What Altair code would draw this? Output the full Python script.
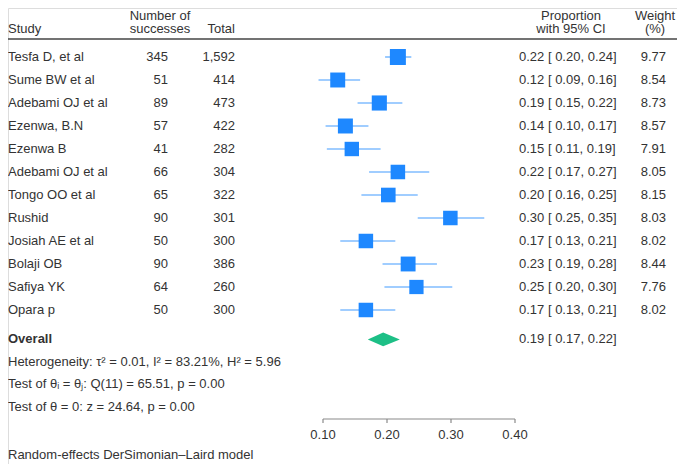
import altair as alt
import pandas as pd

# ---- data ----
studies = ["Tesfa D, et al", "Sume BW et al", "Adebami OJ et al", "Ezenwa, B.N", "Ezenwa B",
           "Adebami OJ et al", "Tongo OO et al", "Rushid", "Josiah AE et al", "Bolaji OB",
           "Safiya YK", "Opara p"]
successes = ["345", "51", "89", "57", "41", "66", "65", "90", "50", "90", "64", "50"]
totals = ["1,592", "414", "473", "422", "282", "304", "322", "301", "300", "386", "260", "300"]
estimates = [0.217, 0.123, 0.188, 0.135, 0.145, 0.217, 0.202, 0.299, 0.167, 0.233, 0.246, 0.167]
ci_low = [0.197, 0.093, 0.154, 0.104, 0.106, 0.172, 0.160, 0.248, 0.127, 0.193, 0.196, 0.127]
ci_high = [0.238, 0.158, 0.224, 0.171, 0.190, 0.266, 0.248, 0.352, 0.213, 0.278, 0.302, 0.213]
ci_labels = ["0.22 [ 0.20,  0.24]", "0.12 [ 0.09,  0.16]", "0.19 [ 0.15,  0.22]",
             "0.14 [ 0.10,  0.17]", "0.15 [ 0.11,  0.19]", "0.22 [ 0.17,  0.27]",
             "0.20 [ 0.16,  0.25]", "0.30 [ 0.25,  0.35]", "0.17 [ 0.13,  0.21]",
             "0.23 [ 0.19,  0.28]", "0.25 [ 0.20,  0.30]", "0.17 [ 0.13,  0.21]"]
weights = [9.77, 8.54, 8.73, 8.57, 7.91, 8.05, 8.15, 8.03, 8.02, 8.44, 7.76, 8.02]
weight_labels = ["9.77", "8.54", "8.73", "8.57", "7.91", "8.05", "8.15", "8.03", "8.02", "8.44", "7.76", "8.02"]

overall_est = 0.194
overall_low = 0.170
overall_high = 0.220
overall_label = "0.19 [ 0.17,  0.22]"

axis_ticks = [0.10, 0.20, 0.30, 0.40]
axis_labels = ["0.10", "0.20", "0.30", "0.40"]

het_text = "Heterogeneity: τ² = 0.01, I² = 83.21%, H² = 5.96"
test1_text = "Test of θᵢ = θⱼ: Q(11) = 65.51, p = 0.00"
test2_text = "Test of θ = 0: z = 24.64, p = 0.00"
model_text = "Random-effects DerSimonian–Laird model"

# ---- layout rows ----
rows = list(range(1, len(studies) + 1))
R_OVERALL = 13.28
R_HET, R_T1, R_T2 = 14.27, 15.22, 16.22
R_AXIS, R_AXLAB, R_MODEL = 16.74, 17.43, 18.30
R_HEAD1, R_HEAD2, R_LINE = -0.80, -0.20, 0.22

TXT = "#333333"
FONT = "Liberation Sans"
FS = 13

W, H = 669, 456
xscale = alt.Scale(domain=[-0.392188, 0.653125], nice=False, zero=False)
yscale = alt.Scale(domain=[-1.1304, 18.696], reverse=True, nice=False, zero=False)

df = pd.DataFrame({
    "study": studies, "succ": successes, "tot": totals, "est": estimates,
    "lo": ci_low, "hi": ci_high, "cil": ci_labels, "w": weights, "wl": weight_labels,
    "r": rows,
})

Y = alt.Y("r:Q", scale=yscale, axis=None)


def text_layer(data, field, x, align="left", bold=False, dx=0):
    return alt.Chart(data).mark_text(
        align=align, baseline="middle", font=FONT, fontSize=FS, color=TXT,
        fontWeight="bold" if bold else "normal", dx=dx
    ).encode(x=alt.value(x), y=Y, text=f"{field}:N")


base = alt.Chart(df)

ci = base.mark_rule(color="#80bdff", strokeWidth=1.6).encode(
    x=alt.X("lo:Q", scale=xscale, axis=None), x2="hi:Q", y=Y)
sq = base.mark_square(color="#1e88ff", opacity=1, filled=True).encode(
    x=alt.X("est:Q", scale=xscale, axis=None), y=Y,
    size=alt.Size("w:Q", scale=alt.Scale(domain=[0, 10], range=[0, 262]), legend=None))

diamond_df = pd.DataFrame({
    "x": [overall_low, overall_est, overall_high],
    "r": [R_OVERALL, R_OVERALL - 0.30, R_OVERALL],
    "r2": [R_OVERALL, R_OVERALL + 0.30, R_OVERALL],
})
diamond = alt.Chart(diamond_df).mark_area(color="#1dbf86", opacity=1).encode(
    x=alt.X("x:Q", scale=xscale, axis=None), y=Y, y2="r2:Q")

# axis
axis_df = pd.DataFrame({"a": [axis_ticks[0]], "b": [axis_ticks[-1]], "r": [R_AXIS]})
axis_line = alt.Chart(axis_df).mark_rule(color="#8a8a8a", strokeWidth=1.2).encode(
    x=alt.X("a:Q", scale=xscale, axis=None), x2="b:Q", y=Y)
tick_df = pd.DataFrame({"t": axis_ticks, "r": [R_AXIS] * 4, "r2": [R_AXIS + 0.17] * 4,
                        "lab": axis_labels, "rl": [R_AXLAB] * 4})
ticks = alt.Chart(tick_df).mark_rule(color="#8a8a8a", strokeWidth=1.2).encode(
    x=alt.X("t:Q", scale=xscale, axis=None), y=Y, y2="r2:Q")
tick_labels = alt.Chart(tick_df).mark_text(
    align="center", baseline="middle", font=FONT, fontSize=FS, color=TXT).encode(
    x=alt.X("t:Q", scale=xscale, axis=None), y=alt.Y("rl:Q", scale=yscale, axis=None), text="lab:N")

# header line
line_df = pd.DataFrame({"r": [R_LINE]})
header_line = alt.Chart(line_df).mark_rule(color="#444444", strokeWidth=1.5).encode(
    x=alt.value(0), x2=alt.value(W), y=Y)

# header texts
def label_df(txt, r):
    return pd.DataFrame({"t": [txt], "r": [r]})

headers = [
    text_layer(label_df("Study", R_HEAD2), "t", 0),
    text_layer(label_df("Number of", R_HEAD1), "t", 152, align="center"),
    text_layer(label_df("successes", R_HEAD2), "t", 152, align="center"),
    text_layer(label_df("Total", R_HEAD2), "t", 227, align="right"),
    text_layer(label_df("Proportion", R_HEAD1), "t", 563, align="center"),
    text_layer(label_df("with 95% CI", R_HEAD2), "t", 563, align="center"),
    text_layer(label_df("Weight", R_HEAD1), "t", 647, align="center"),
    text_layer(label_df("(%)", R_HEAD2), "t", 647, align="center"),
]

cols = [
    text_layer(df, "study", 0),
    text_layer(df, "succ", 160, align="right"),
    text_layer(df, "tot", 227, align="right"),
    text_layer(df, "cil", 511),
    text_layer(df, "wl", 658, align="right"),
]

footer = [
    text_layer(label_df("Overall", R_OVERALL), "t", 0, bold=True),
    text_layer(label_df(overall_label, R_OVERALL), "t", 511),
    text_layer(label_df(het_text, R_HET), "t", 0),
    text_layer(label_df(test1_text, R_T1), "t", 0),
    text_layer(label_df(test2_text, R_T2), "t", 0),
    text_layer(label_df(model_text, R_MODEL), "t", 0),
]

chart = alt.layer(
    ci, sq, diamond, axis_line, ticks, tick_labels, header_line, *headers, *cols, *footer
).properties(
    width=W, height=H, padding=0, autosize=alt.AutoSizeParams(type="none")
).configure_view(stroke=None).configure(background="white")

chart.save("out.html", embed_options={"renderer": "svg", "actions": False})
